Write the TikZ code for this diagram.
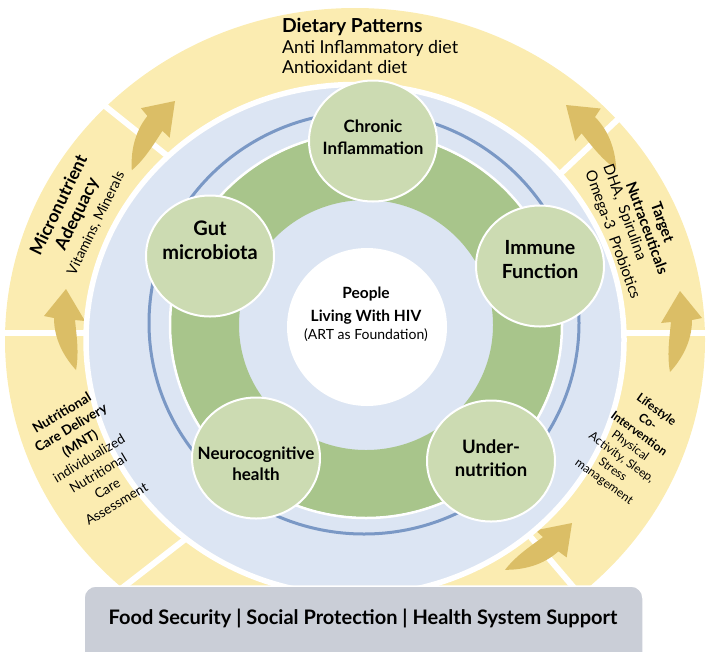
\documentclass[tikz,border=0pt]{standalone}
\usepackage{fontspec}
\setmainfont{Lato}
\usepackage{graphicx}
\usetikzlibrary{shapes.geometric}
\definecolor{yel}{RGB}{251,236,177}
\definecolor{gold}{RGB}{219,190,102}
\definecolor{lblue}{RGB}{220,229,243}
\definecolor{dblue}{RGB}{122,152,197}
\definecolor{grn}{RGB}{168,197,139}
\definecolor{lgrn}{RGB}{204,219,178}
\definecolor{gbox}{RGB}{202,206,215}
\newcommand{\fsz}[2]{\fontsize{#1}{#2}\selectfont}
\tikzset{
  carrow/.pic={\fill[gold] (0,0) -- (19,32) -- (9,31) .. controls (11,50) and (13,65) .. (10,81) .. controls (-2,68) and (-12,50) .. (-12,29) -- (-22,27) -- cycle;},
  sepline/.style={white, line width=6pt},
  hub/.style={shape=ellipse, fill=lgrn, draw=white, line width=2pt, minimum width=128pt, minimum height=121pt, inner sep=0pt},
  hubtext/.style={align=center, inner sep=0pt},
  ringtext/.style={align=center, inner sep=0pt},
  basetext/.style={anchor=base, inner sep=0pt}
}
\begin{document}
\begin{tikzpicture}[x=1pt,y=-1pt]
\useasboundingbox (0,0) rectangle (708,651);
% outer yellow ring
\fill[yel] (355,340) ellipse [x radius=350, y radius=332];
% separators
\draw[sepline] (190,174) -- (60,70);
\draw[sepline] (540,193) -- (670,70);
\draw[sepline] (150,333) -- (-10,333);
\draw[sepline] (560,333) -- (720,333);
\draw[sepline] (215,516) -- (90,613);
\draw[sepline] (505,507) -- (610,630);
% arrows
\pic at (66,289) {carrow};
\pic[rotate=-39] at (175,101) {carrow};
\pic[xscale=-1] at (680,291) {carrow};
\pic[rotate=45, xscale=-1] at (566,105) {carrow};
\pic[rotate=-48, xscale=-1] at (572,523) {carrow};
% blue disk with white gap
\filldraw[fill=lblue, draw=white, line width=5.5pt] (355,340) ellipse [x radius=269, y radius=255.5];
% dark blue ring
\draw[dblue, line width=3pt] (364,323) ellipse [x radius=215, y radius=211];
% green ring
\fill[grn, even odd rule] (366,325) ellipse [x radius=195, y radius=192] (366,325) ellipse [x radius=127, y radius=125];
\draw[white, line width=2.5pt] (366,325) ellipse [x radius=196, y radius=193];
% centre
\fill[white] (367,327) ellipse [x radius=80, y radius=79];
\node[basetext, font=\bfseries\fsz{15.5}{18}] (people1) at (366,298) {People};
\node[basetext, font=\bfseries\fsz{15.5}{18}] (people2) at (366,321) {Living With HIV};
\node[basetext, font=\fsz{14}{16}] (people3) at (366,339) {(ART as Foundation)};
% hubs
\node[hub] (chronic) at (373,141) {};
\node[hubtext, font=\bfseries\fsz{17}{21.5}] (chronicT) at (373,137) {Chronic\\Inflammation};
\node[hub] (gut) at (210,256) {};
\node[hubtext, font=\bfseries\fsz{20}{24}] (gutT) at (210,240) {Gut\\microbiota};
\node[hub] (immune) at (540,266) {};
\node[hubtext, font=\bfseries\fsz{19.5}{24}] (immuneT) at (540,260) {Immune\\Function};
\node[hub] (neuro) at (256,458) {};
\node[hubtext, font=\bfseries\fsz{17}{21}] (neuroT) at (256,464) {Neurocognitive\\health};
\node[hub] (under) at (491,461) {};
\node[hubtext, font=\bfseries\fsz{18.5}{23}] (underT) at (491,458) {Under-\\nutrition};
% dietary patterns
\node[anchor=base west, inner sep=0pt, font=\bfseries\fsz{19.3}{22}] (dp1) at (282,32) {Dietary Patterns};
\node[anchor=base west, inner sep=0pt, font=\fsz{17.8}{20}] (dp2) at (282,53) {Anti Inflammatory diet};
\node[anchor=base west, inner sep=0pt, font=\fsz{17.8}{20}] (dp3) at (282,73) {Antioxidant diet};
% ring texts
\node[ringtext, rotate=64, font=\fsz{17.5}{20}] (microT) at (77,214) {\textbf{Micronutrient}\\\textbf{Adequacy}\\{\fsz{14}{16}Vitamins, Minerals}};
\node[ringtext, rotate=-70, font=\bfseries\fsz{15}{16.5}] (targetT) at (655,225) {Target\\Nutraceuticals};
\node[ringtext, align=left, rotate=-70, anchor=west, font=\fsz{15}{19}] (dhaT) at (598,168) {DHA,\ \ Spirulina\\Omega-3\ \ Probiotics};
\node[ringtext, rotate=31, font=\fsz{13.5}{17.7}] (mntT) at (89,458) {\textbf{Nutritional}\\\textbf{Care Delivery}\\\textbf{(MNT)}\\individualized\\Nutritional\\Care\\Assessment};
\node[ringtext, rotate=-36, font=\fsz{12}{14.8}] (lifeT) at (630,446) {\textbf{Lifestyle}\\\textbf{Co-}\\\textbf{Intervention}\\Physical\\Activity, Sleep,\\Stress\\management};
% base box
\filldraw[fill=gbox, draw=white, line width=1.5pt, rounded corners=12pt] (84,586) rectangle (643,680);
\node[inner sep=0pt, font=\bfseries\fsz{20}{24}] (foodT) at (363,618) {Food Security | Social Protection | Health System Support};
\end{tikzpicture}
\end{document}
